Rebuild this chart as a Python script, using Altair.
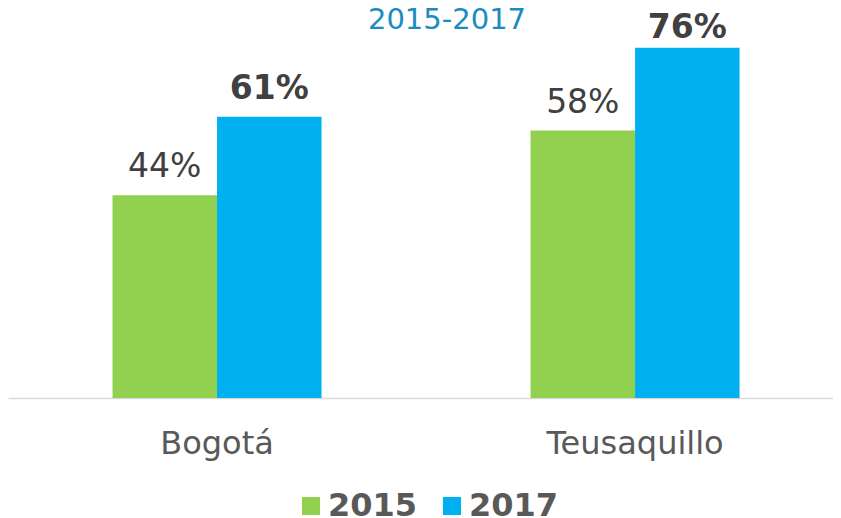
import altair as alt
import pandas as pd

categories = ["Bogotá", "Bogotá", "Teusaquillo", "Teusaquillo"]
years = ["2015", "2017", "2015", "2017"]
values = [0.44, 0.61, 0.58, 0.76]
cat_order = ["Bogotá", "Teusaquillo"]
year_order = ["2015", "2017"]
colors = ["#92D050", "#00B0F0"]
title_text = "2015-2017"

df = pd.DataFrame({"lugar": categories, "anio": years, "valor": values})
FONT = "DejaVu Sans"

x = alt.X(
    "lugar:N", sort=cat_order, title=None,
    scale=alt.Scale(paddingInner=0.5, paddingOuter=0.2368, align=0.528, round=False),
    axis=alt.Axis(labelAngle=0, labelFontSize=32, labelColor="#595959", labelFont=FONT,
                  ticks=False, tickSize=0, labelPadding=55, labelBaseline="alphabetic",
                  domainColor="#D9D9D9", domainWidth=1.5, grid=False),
)
y = alt.Y("valor:Q", scale=alt.Scale(domain=[0, 0.846]), axis=None)
xoff = alt.XOffset("anio:N", sort=year_order, scale=alt.Scale(paddingInner=0, paddingOuter=0))
color = alt.Color(
    "anio:N",
    scale=alt.Scale(domain=year_order, range=colors),
    legend=alt.Legend(title=None, orient="none", legendX=287, legendY=482, direction="horizontal",
                      symbolType="square", symbolSize=324, symbolStrokeWidth=0,
                      labelFontSize=32, labelFontWeight="bold", labelColor="#595959",
                      labelFont=FONT, labelOffset=1, columnPadding=18),
)

base = alt.Chart(df)
bars = base.mark_bar().encode(x=x, y=y, color=color, xOffset=xoff)
text_enc = dict(x=x, y=y, xOffset=xoff, text=alt.Text("valor:Q", format=".0%"))

lab15 = base.transform_filter("datum.anio == '2015'").mark_text(
    font=FONT, fontSize=33, color="#404040", baseline="alphabetic", dy=-18
).encode(**text_enc)

# 2017 labels: the tallest one is pushed down inside the chart area, as in the original
lab17 = base.transform_filter("datum.anio == '2017' && datum.valor < 0.7").mark_text(
    font=FONT, fontSize=33, fontWeight="bold", color="#404040", baseline="alphabetic", dy=-18
).encode(**text_enc)
lab17_top = base.transform_filter("datum.anio == '2017' && datum.valor >= 0.7").mark_text(
    font=FONT, fontSize=33, fontWeight="bold", color="#404040", baseline="alphabetic", dy=-10
).encode(**text_enc)

title = alt.Chart(pd.DataFrame({"t": [title_text]})).mark_text(
    font=FONT, fontSize=29, color="#1A8CBF", baseline="alphabetic", align="center"
).encode(text="t:N", x=alt.value(439), y=alt.value(21))

chart = alt.layer(bars, lab15, lab17, lab17_top, title).properties(
    width=825, height=390, autosize="none",
    padding={"left": 0, "right": 0, "top": 0, "bottom": 120},
).configure_view(stroke=None)

chart.save("out.html", embed_options={"renderer": "svg", "actions": False})
